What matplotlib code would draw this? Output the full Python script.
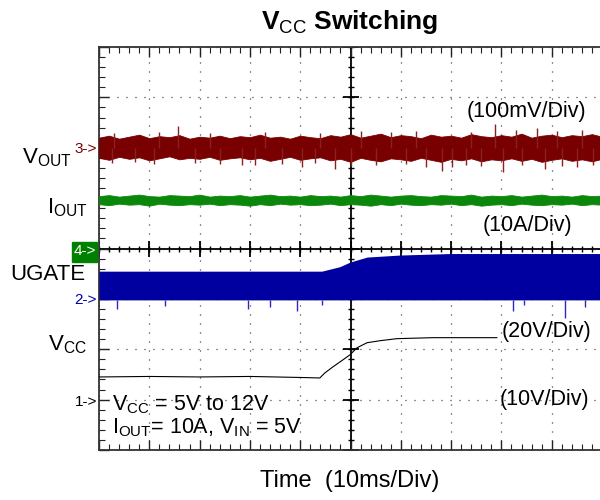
import numpy as np
import matplotlib.pyplot as plt
from matplotlib.ticker import MultipleLocator
from matplotlib.patches import Rectangle

plt.rcParams['font.family'] = ['Liberation Sans', 'DejaVu Sans']
plt.rcParams['mathtext.fontset'] = 'custom'
plt.rcParams['mathtext.rm'] = 'Liberation Sans'
plt.rcParams['mathtext.it'] = 'Liberation Sans:italic'
plt.rcParams['mathtext.bf'] = 'Liberation Sans:bold'

# ---- data (time in ms, 10 ms/div) ----
t_env = np.linspace(0, 100, 51)   # envelope sample times

# ch3 VOUT ripple envelope, mV (100 mV/div, marker at div 6)
vout_hi = [20, 24, 18, 22, 26, 19, 23, 21, 25, 18, 22, 20, 24, 19, 23, 21, 26,
           20, 22, 18, 24, 21, 19, 25, 22, 27, 20, 24, 28, 21, 25, 23, 19, 26,
           22, 24, 20, 27, 23, 21, 25, 22, 28, 20, 24, 26, 21, 25, 23, 27, 22]
vout_lo = [-20, -24, -18, -22, -19, -25, -21, -17, -23, -20, -22, -18, -24,
           -21, -19, -23, -20, -26, -22, -18, -24, -21, -19, -25, -22, -28,
           -20, -24, -27, -21, -23, -26, -20, -24, -28, -22, -25, -21, -27,
           -23, -25, -21, -26, -22, -28, -24, -21, -26, -23, -27, -22]
vout_spk_t = [2.5, 3.0, 7.2, 11.0, 12.0, 15.7, 19.0, 22.0, 24.0, 28.4, 31.0,
              33.0, 36.4, 40.4, 43.0, 44.0, 46.9, 50.0, 52.0, 55.0, 58.0, 61.0,
              63.0, 65.0, 68.2, 70.2, 73.0, 74.0, 76.0, 78.7, 80.3, 83.0, 84.0,
              87.1, 88.7, 91.0, 92.0, 95.0, 96.0, 98.2]
vout_spk_v = [-31, 30, -29, -33, 31, 44, -30, 29, -32, -35, -34,
              32, -33, -39, -31, 30, -43, -36, 34, -34, 31, -33,
              33, -38, -47, -39, -35, 32, -37, 48, -49, 35, -34,
              40, -43, 33, -37, -38, 36, -35]

# ch4 IOUT envelope, A (10 A/div, ground at div 4)
iout_hi = [10.4, 10.6, 10.3, 10.5, 10.7, 10.4, 10.3, 10.6, 10.5, 10.4, 10.7,
           10.3, 10.5, 10.4, 10.6, 10.3, 10.5, 10.7, 10.4, 10.5, 10.3, 10.6,
           10.4, 10.5, 10.3, 10.6, 10.4, 10.7, 10.5, 10.3, 10.5, 10.6, 10.4,
           10.3, 10.6, 10.5, 10.4, 10.7, 10.3, 10.5, 10.4, 10.6, 10.3, 10.5,
           10.7, 10.4, 10.5, 10.3, 10.6, 10.4, 10.5]
iout_lo = [8.8, 8.6, 8.9, 8.7, 8.8, 8.5, 8.9, 8.7, 8.6, 8.8, 8.7, 8.9, 8.6,
           8.8, 8.7, 8.5, 8.8, 8.6, 8.9, 8.7, 8.8, 8.6, 8.7, 8.9, 8.6, 8.8,
           8.7, 8.5, 8.8, 8.6, 8.9, 8.7, 8.6, 8.8, 8.7, 8.9, 8.6, 8.8, 8.5,
           8.7, 8.8, 8.6, 8.9, 8.7, 8.6, 8.8, 8.7, 8.9, 8.6, 8.8, 8.7]

# ch2 UGATE switching band, V (20 V/div, ground at div 3)
ug_t = [0, 44.3, 47.9, 49.9, 53.3, 59.8, 69.8, 100]
ug_top = [11.0, 11.0, 12.8, 14.6, 16.6, 17.4, 18.0, 18.0]
ug_bot = -0.4
ug_spk_t = [3.6, 13.1, 29.6, 34.0, 39.4, 44.3, 82.3, 84.5, 92.6, 96.6]
ug_spk_v = [-4.0, -2.8, -4.0, -3.2, -4.8, -2.4, -4.8, -2.4, -7.6, -3.2]

# ch1 VCC, V (10 V/div, ground at div 1)
vcc_t = [0, 10, 20, 30, 40, 43.9, 44.9, 46.5, 48.5, 49.9, 51.3, 53.3, 55.9,
         59.2, 66.4, 79.1]
vcc_v = [4.5, 4.6, 4.5, 4.6, 4.4, 4.3, 5.3, 6.5, 7.9, 8.9, 10.3, 11.3, 11.7,
         12.1, 12.3, 12.3]

# ---- channel scaling onto the 10 x 8 div screen ----
def tx(t):
    return np.asarray(t) / 10.0

def ch3(mv):
    return 6 + np.asarray(mv) / 100.0

def ch4(a):
    return 4 + np.asarray(a) / 10.0

def ch2(v):
    return 3 + np.asarray(v) / 20.0

def ch1(v):
    return 1 + np.asarray(v) / 10.0

fig = plt.figure(figsize=(6, 5), dpi=100)
ax = fig.add_axes([99/600, 50/500, 503/600, 403/500])
ax.set_xlim(0, 10)
ax.set_ylim(0, 8)

# graticule
ax.xaxis.set_major_locator(MultipleLocator(1))
ax.xaxis.set_minor_locator(MultipleLocator(0.2))
ax.yaxis.set_major_locator(MultipleLocator(1))
ax.yaxis.set_minor_locator(MultipleLocator(0.2))
ax.tick_params(which='both', direction='in', top=True, bottom=True,
               left=True, right=False, labelbottom=False, labelleft=False,
               color='#222222')
ax.tick_params(which='major', length=7, width=1.0)
ax.tick_params(which='minor', length=4, width=0.8)
ax.grid(which='major', color='#222222', linestyle=(0, (0.8, 6.4)), linewidth=0.9)
for s in ax.spines.values():
    s.set_linewidth(1.3)
    s.set_color('#333333')

ax.axhline(4, color='black', lw=1.3, zorder=1)
ax.axvline(5, color='black', lw=1.3, zorder=1)
xt = np.arange(0, 10.01, 0.2)
yt = np.arange(0, 8.01, 0.2)
ax.plot(xt, np.full_like(xt, 4), ls='none', marker='|', ms=5, mew=1, color='black')
ax.plot(xt[::5], np.full_like(xt[::5], 4), ls='none', marker='|', ms=11, mew=1.3, color='black')
ax.plot(np.full_like(yt, 5), yt, ls='none', marker='_', ms=5, mew=1, color='black')
ax.plot(np.full_like(yt[::5], 5), yt[::5], ls='none', marker='_', ms=11, mew=1.3, color='black')

# traces
red = '#780000'
ax.fill_between(tx(t_env), ch3(vout_lo), ch3(vout_hi), color=red, lw=0.6,
                edgecolor=red, zorder=3)
ax.vlines(tx(vout_spk_t), ch3(0), ch3(vout_spk_v), color='#8a2020', lw=1.0, zorder=3)

green = '#0b880b'
ax.fill_between(tx(t_env), ch4(iout_lo), ch4(iout_hi), color=green, lw=0.6,
                edgecolor=green, zorder=3)

blue = '#0000a0'
ax.fill_between(tx(ug_t), ch2(ug_bot), ch2(ug_top), color=blue, lw=0, zorder=3)
ax.vlines(tx(ug_spk_t), ch2(ug_bot), ch2(ug_spk_v), color='#2a2ac0', lw=1.0, zorder=3)

ax.plot(tx(vcc_t), ch1(vcc_v), color='black', lw=0.8, zorder=4)

# texts (pixel positions on the 600x500 canvas)
def ftxt(px, py, s, **kw):
    fig.text(px / 600, 1 - py / 500, s, **kw)

ftxt(350, 29, r'V$_{\mathrm{CC}}$ Switching', fontsize=19, fontweight='bold',
     ha='center', va='baseline')

ftxt(72, 163, r'V$_{\mathrm{OUT}}$', fontsize=16, ha='right', va='baseline')
ftxt(97, 149, '3->', fontsize=11, color=red, ha='right', va='center')
ftxt(88, 213, r'I$_{\mathrm{OUT}}$', fontsize=16, ha='right', va='baseline')
fig.patches.append(Rectangle((72/600, 1-262/500), 25/600, 20/500,
                             transform=fig.transFigure, color='#008000', zorder=5))
ftxt(85, 251, '4->', fontsize=11, color='white', ha='center', va='center', zorder=6)
ftxt(85, 280, 'UGATE', fontsize=16, ha='right', va='baseline', zorder=7)
ftxt(97, 300, '2->', fontsize=11, color=blue, ha='right', va='center')
ftxt(87, 350, r'V$_{\mathrm{CC}}$', fontsize=16, ha='right', va='baseline')
ftxt(97, 402, '1->', fontsize=11, color='black', ha='right', va='center')

ftxt(467, 111, '(100mV/Div)', fontsize=15.5, ha='left', va='center')
ftxt(483, 225, '(10A/Div)', fontsize=15.5, ha='left', va='center')
ftxt(502, 331, '(20V/Div)', fontsize=15.5, ha='left', va='center')
ftxt(500, 400, '(10V/Div)', fontsize=15.5, ha='left', va='center')

ftxt(112, 410, r'V$_{\mathrm{CC}}$ = 5V to 12V', fontsize=15.5, ha='left', va='baseline')
ftxt(112, 433, r'I$_{\mathrm{OUT}}$= 10A, V$_{\mathrm{IN}}$ = 5V', fontsize=15.5,
     ha='left', va='baseline')
ftxt(350, 487, 'Time  (10ms/Div)', fontsize=17, ha='center', va='baseline')

fig.savefig('out.png', dpi=100)
